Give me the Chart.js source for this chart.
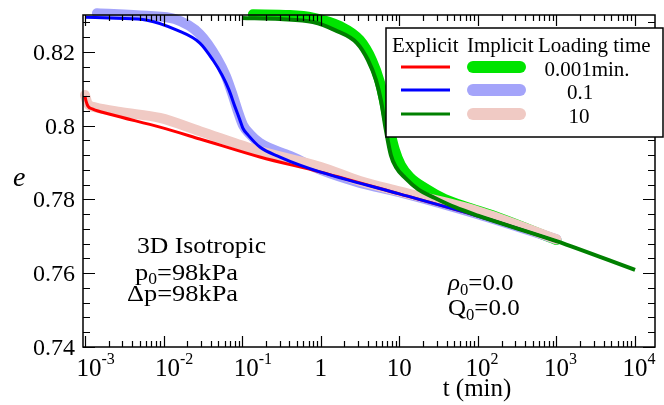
<!DOCTYPE html>
<html>
<head>
<meta charset="utf-8">
<script src="https://cdn.jsdelivr.net/npm/chart.js@4/dist/chart.umd.min.js"></script>
<style>
  html, body { margin: 0; padding: 0; background: #ffffff; }
  #wrap { width: 664px; height: 405px; position: relative; }
</style>
</head>
<body>
<div id="wrap"><canvas id="c" width="664" height="405"></canvas></div>
<script>
// Time (min) and void ratio e for each run
// Explicit, loading time 0.001 min
const tExp1 = [0.001, 0.00103, 0.00109, 0.00126, 0.00208, 0.009, 0.029, 0.168, 1, 10, 100, 1000];
const eExp1 = [0.8080, 0.8067, 0.8053, 0.8045, 0.8031, 0.7996, 0.7964, 0.7915, 0.7874, 0.7815, 0.7755, 0.7687];
// Explicit, loading time 0.1 min
const tExp2 = [0.001, 0.0025, 0.00615, 0.0148, 0.029, 0.0425, 0.0556, 0.068, 0.0805, 0.0938, 0.1023, 0.1186, 0.168, 0.303, 0.544, 1, 10, 100, 1000];
const eExp2 = [0.8294, 0.8291, 0.8286, 0.8259, 0.8224, 0.8178, 0.8137, 0.8097, 0.8053, 0.8015, 0.7993, 0.7975, 0.7942, 0.7915, 0.7893, 0.7874, 0.7815, 0.7755, 0.7687];
// Explicit, loading time 10 min
const tExp3 = [0.0994, 0.303, 0.796, 1.516, 2.888, 3.986, 5.04, 5.834, 6.753, 7.818, 9.05, 11.78, 17.25, 28.38, 50.97, 100, 1000, 10000];
const eExp3 = [0.8292, 0.8289, 0.8281, 0.8259, 0.8224, 0.8178, 0.8124, 0.8069, 0.7988, 0.7920, 0.7888, 0.7859, 0.7828, 0.7804, 0.7779, 0.7756, 0.7687, 0.7609];
// Implicit bands
const tImpGreen = [0.137, 0.406, 0.796, 1.754, 3.155, 4.48, 5.66, 6.56, 7.59, 8.79, 10.48, 13.64, 21.2, 38.0, 79.1, 190, 1000];
const eImpGreen = [0.8302, 0.8300, 0.8293, 0.8270, 0.8232, 0.8178, 0.8118, 0.8056, 0.7988, 0.7934, 0.7893, 0.7861, 0.7831, 0.7801, 0.7777, 0.7750, 0.7690];
const tImpLav = [0.00142, 0.00615, 0.01396, 0.029, 0.0478, 0.0620, 0.0760, 0.0885, 0.1023, 0.1256, 0.168, 0.406, 1, 3.16, 10, 100, 1000];
const eImpLav = [0.8305, 0.8298, 0.8289, 0.8248, 0.8183, 0.8135, 0.8082, 0.8038, 0.8002, 0.7977, 0.7953, 0.7918, 0.7880, 0.7845, 0.7820, 0.7760, 0.7692];
const tImpPink = [0.001, 0.00109, 0.00134, 0.00279, 0.009, 0.029, 0.168, 1, 3.16, 10, 100, 1000];
const eImpPink = [0.8083, 0.8059, 0.8050, 0.8037, 0.8021, 0.7985, 0.7931, 0.7888, 0.7850, 0.7822, 0.7768, 0.7692];

// Axis ticks
const xExponents = [-3, -2, -1, 0, 1, 2, 3, 4];
const yTickValues = [0.74, 0.76, 0.78, 0.8, 0.82];
const loadingTimes = ['0.001min.', '0.1', '10'];

const X_MIN = Math.pow(10, -3.025), X_MAX = Math.pow(10, 4.254);
const Y_MIN = 0.74, Y_MAX = 0.83;
const SERIF = '"Liberation Serif", "Times New Roman", serif';

function pts(ts, es) { return ts.map((t, i) => ({ x: t, y: es[i] })); }

// higher "order" is painted first (further back)
function band(label, ts, es, color, order) {
  return { label, data: pts(ts, es), borderColor: color, backgroundColor: color,
    borderWidth: 10, borderCapStyle: 'round', borderJoinStyle: 'round', order,
    pointRadius: 0, showLine: true, fill: false, clip: false, cubicInterpolationMode: 'monotone' };
}
function thin(label, ts, es, color, w, order) {
  return { label, data: pts(ts, es), borderColor: color, backgroundColor: color,
    borderWidth: w, borderCapStyle: 'butt', borderJoinStyle: 'round', order,
    pointRadius: 0, showLine: true, fill: false, clip: false, cubicInterpolationMode: 'monotone' };
}

const COL_RED = '#ff0000', COL_BLUE = '#0000ff', COL_DGREEN = '#008000';
const COL_GREEN = '#00e400', COL_LAV = '#a4a4fa', COL_PINK = '#f0cac4';

const datasets = [
  band('Implicit green', tImpGreen, eImpGreen, COL_GREEN, 6),
  band('Implicit lavender', tImpLav, eImpLav, COL_LAV, 5),
  band('Implicit pink', tImpPink, eImpPink, COL_PINK, 4),
  thin('Explicit 0.001', tExp1, eExp1, COL_RED, 3, 3),
  thin('Explicit 0.1', tExp2, eExp2, COL_BLUE, 3, 2),
  thin('Explicit 10', tExp3, eExp3, COL_DGREEN, 4, 1)
];

// Draws a run of text pieces with their own size / vertical shift,
// optionally widened horizontally by sx
function drawRich(ctx, parts, x, y, sx) {
  sx = sx || 1;
  ctx.save();
  ctx.translate(x, y);
  ctx.scale(sx, 1);
  let cx = 0;
  for (const p of parts) {
    ctx.font = (p.italic ? 'italic ' : '') + p.size + 'px ' + SERIF;
    ctx.fillText(p.t, cx, p.dy || 0);
    cx += ctx.measureText(p.t).width;
  }
  ctx.restore();
}

const framePlugin = {
  id: 'frame',
  afterDatasetsDraw(chart) {
    const ctx = chart.ctx;
    const { left, right, top, bottom } = chart.chartArea;
    const xs = chart.scales.x, ys = chart.scales.y;
    ctx.save();
    ctx.strokeStyle = '#000';
    ctx.lineWidth = 1.5;
    ctx.strokeRect(left, top, right - left, bottom - top);
    ctx.lineWidth = 1.2;
    ctx.beginPath();
    for (let d = -4; d <= 4; d++) {
      for (let m = 1; m <= 9; m++) {
        const v = m * Math.pow(10, d);
        if (v < X_MIN || v > X_MAX) continue;
        const px = Math.round(xs.getPixelForValue(v)) + 0.5;
        const len = m === 1 ? 11 : 6;
        ctx.moveTo(px, bottom); ctx.lineTo(px, bottom - len);
        ctx.moveTo(px, top); ctx.lineTo(px, top + len);
      }
    }
    for (let k = 0; k <= 22; k++) {
      const v = Y_MIN + k * 0.004;
      const py = Math.round(ys.getPixelForValue(v)) + 0.5;
      const len = k % 5 === 0 ? 12 : 7;
      ctx.moveTo(left, py); ctx.lineTo(left + len, py);
      ctx.moveTo(right, py); ctx.lineTo(right - len, py);
    }
    ctx.stroke();

    // tick labels
    ctx.fillStyle = '#000';
    ctx.textBaseline = 'alphabetic';
    ctx.font = '24px ' + SERIF;
    ctx.textAlign = 'right';
    for (const v of yTickValues) {
      const py = ys.getPixelForValue(v);
      ctx.fillText(String(v), left - 8, py + 8);
    }
    ctx.textAlign = 'left';
    for (const ex of xExponents) {
      const px = xs.getPixelForValue(Math.pow(10, ex));
      ctx.font = '25px ' + SERIF;
      if (ex === 0 || ex === 1) {
        const s = ex === 0 ? '1' : '10';
        const w = ctx.measureText(s).width;
        ctx.fillText(s, px - w / 2, 376);
      } else {
        const w = ctx.measureText('10').width;
        const bx = px - w / 2 + (ex < 0 ? 4 : 0);
        ctx.fillText('10', bx, 376);
        ctx.font = '16px ' + SERIF;
        ctx.fillText(String(ex), bx + w, 364);
      }
    }
    ctx.restore();
  },
  afterDraw(chart) {
    const ctx = chart.ctx;
    ctx.save();
    ctx.fillStyle = '#000';
    ctx.textBaseline = 'alphabetic';
    ctx.textAlign = 'left';

    // axis titles
    ctx.font = 'italic 28px ' + SERIF;
    ctx.fillText('e', 13, 186);
    ctx.font = '25px ' + SERIF;
    ctx.textAlign = 'center';
    ctx.fillText('t (min)', 477, 396);
    ctx.textAlign = 'left';

    // annotations
    drawRich(ctx, [{ t: '3D Isotropic', size: 24 }], 137, 253, 1.07);
    drawRich(ctx, [{ t: 'p', size: 24 }, { t: '0', size: 16, dy: 4 }, { t: '=98kPa', size: 24 }], 135, 280, 1.1);
    drawRich(ctx, [{ t: '\u0394p=98kPa', size: 24 }], 127, 301, 1.1);
    drawRich(ctx, [{ t: '\u03C1', size: 24, italic: true }, { t: '0', size: 16, dy: 5 }, { t: '=0.0', size: 24 }], 448, 290, 1.04);
    drawRich(ctx, [{ t: 'Q', size: 24 }, { t: '0', size: 16, dy: 5 }, { t: '=0.0', size: 24 }], 448, 315, 1.04);

    // legend table
    const bx = 386, by = 28, bw = 277, bh = 109;
    ctx.fillStyle = '#fff';
    ctx.fillRect(bx, by, bw, bh);
    ctx.strokeStyle = '#000';
    ctx.lineWidth = 1.5;
    ctx.strokeRect(bx, by, bw, bh);
    ctx.fillStyle = '#000';
    ctx.font = '21px ' + SERIF;
    ctx.fillText('Explicit', 392, 52);
    ctx.fillText('Implicit', 467, 52);
    ctx.fillText('Loading time', 538, 52);
    const explicitSets = [3, 4, 5];
    const implicitSets = [0, 1, 2];
    const rowY = [67, 90, 114];
    for (let i = 0; i < 3; i++) {
      const e = chart.data.datasets[explicitSets[i]];
      const m = chart.data.datasets[implicitSets[i]];
      ctx.lineCap = 'butt';
      ctx.strokeStyle = e.borderColor;
      ctx.lineWidth = 3;
      ctx.beginPath(); ctx.moveTo(401, rowY[i]); ctx.lineTo(450, rowY[i]); ctx.stroke();
      ctx.lineCap = 'round';
      ctx.strokeStyle = m.borderColor;
      ctx.lineWidth = 12;
      ctx.beginPath(); ctx.moveTo(473, rowY[i]); ctx.lineTo(520, rowY[i]); ctx.stroke();
      ctx.fillStyle = '#000';
      ctx.font = '21px ' + SERIF;
      ctx.textAlign = 'center';
      ctx.fillText(loadingTimes[i], [587, 580, 579][i], rowY[i] + 9);
      ctx.textAlign = 'left';
    }
    ctx.restore();
  }
};

new Chart(document.getElementById('c'), {
  type: 'scatter',
  data: { datasets },
  options: {
    responsive: false,
    animation: false,
    layout: { padding: { left: 0, top: 15, right: 9, bottom: 0 } },
    plugins: { legend: { display: false }, tooltip: { enabled: false } },
    scales: {
      x: {
        type: 'logarithmic', min: X_MIN, max: X_MAX,
        grid: { display: false }, border: { display: false },
        ticks: { display: false },
        afterFit(s) { s.height = 58; }
      },
      y: {
        type: 'linear', min: Y_MIN, max: Y_MAX,
        grid: { display: false }, border: { display: false },
        ticks: { display: false },
        afterFit(s) { s.width = 83; }
      }
    }
  },
  plugins: [framePlugin]
});
</script>
</body>
</html>
